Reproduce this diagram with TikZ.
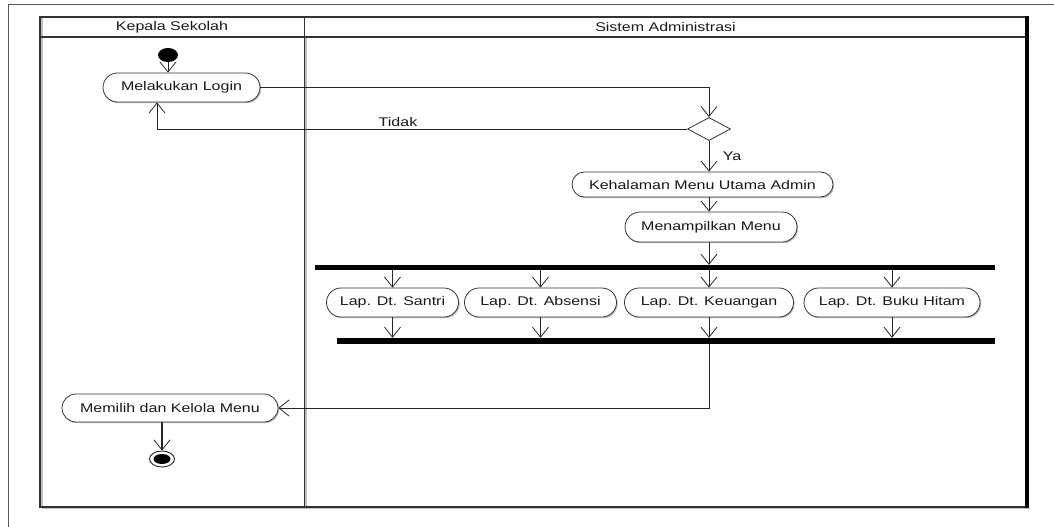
\documentclass[tikz,border=0pt]{standalone}
\usepackage{fontspec}
\newfontfamily\diagfont[FakeStretch=1.27]{Liberation Sans}
\usetikzlibrary{arrows.meta,shapes.misc,shapes.geometric,shadows}

\begin{document}
\begin{tikzpicture}[x=1pt,y=-1pt,
  every node/.style={font=\diagfont\fontsize{12.6}{15}\selectfont, text=black!90},
  act/.style={rounded rectangle, draw=black!80, line width=0.8pt, fill=white,
    inner sep=0pt,
    drop shadow={shadow xshift=1.2pt,shadow yshift=-1.2pt,fill=black!25,opacity=1}},
  flow/.style={draw=black!85, line width=0.8pt,
    -{Straight Barb[length=10pt,width=16pt,line width=0.8pt]}},
  bar/.style={rectangle, fill=black, inner sep=0pt},
  lane/.style={draw=black!80, line width=1.2pt},
  lbl/.style={inner sep=0pt}
]
\useasboundingbox (0,0) rectangle (1054,527);

% page frame
\draw[black!65, line width=1pt] (8,527) -- (8,5) -- (1054,5);

% swimlanes
\draw[black!25, line width=1.5pt] (42,508.5) -- (1030,508.5);
\draw[black!25, line width=1.5pt] (42,17) -- (42,507);
\draw[black!25, line width=1.5pt] (306,37) -- (306,507);
\draw[lane] (40,17) rectangle (1027,507);
\draw[lane] (40,37) -- (1027,37);
\draw[lane] (304.5,17) -- (304.5,507);
\draw[black, line width=3.5pt] (1027,16.4) -- (1027,507.6);
\node[lbl] (h1) at (172,27) {Kepala Sekolah};
\node[lbl] (h2) at (665.5,27) {Sistem Administrasi};

% activities
\node[ellipse, fill=black, inner sep=0pt, minimum width=20pt, minimum height=14pt] (start) at (168,55) {};
\node[act, minimum width=157pt, minimum height=29pt] (login) at (181.5,87.5) {Melakukan Login};
\node[diamond, draw=black!80, line width=0.8pt, fill=white, inner sep=0pt,
      minimum width=43pt, minimum height=23pt] (dec) at (709,129) {};
\node[act, minimum width=261pt, minimum height=25pt] (kehal) at (702.5,184.5) {Kehalaman Menu Utama Admin};
\node[act, minimum width=172pt, minimum height=30pt] (menu) at (711,227) {Menampilkan Menu};
\node[bar, minimum width=680pt, minimum height=5pt] (fork) at (655,267.5) {};
\node[act, minimum width=132pt, minimum height=29pt] (santri) at (392.5,302.5) {Lap. Dt. Santri};
\node[act, minimum width=152pt, minimum height=29pt] (absensi) at (540.5,302.5) {Lap. Dt. Absensi};
\node[act, minimum width=169pt, minimum height=29pt] (keu) at (709,302.5) {Lap. Dt. Keuangan};
\node[act, minimum width=176pt, minimum height=29pt] (buku) at (892,302.5) {Lap. Dt. Buku Hitam};
\node[bar, minimum width=658pt, minimum height=6pt] (join) at (666,341) {};
\node[act, minimum width=216pt, minimum height=28pt] (memilih) at (170,408) {Memilih dan Kelola Menu};
\node[ellipse, draw=black!85, line width=0.9pt, fill=white, inner sep=0pt,
      minimum width=25pt, minimum height=16pt] (endo) at (162,459) {};
\node[ellipse, fill=black, inner sep=0pt, minimum width=17pt, minimum height=10pt] (endi) at (endo.center) {};

% flows
\draw[flow] (start) -- (start |- login.north);
\draw[flow] (login.east) -| (dec.north);
\draw[flow] (dec.west) -| ([xshift=-24.5pt]login.south);
\node[lbl] (tidak) at (398,121.5) {Tidak};
\draw[flow] (dec.south) -- (dec.south |- kehal.north);
\node[lbl] (ya) at (732,156) {Ya};
\draw[flow] (dec |- kehal.south) -- (dec |- menu.north);
\draw[flow] (dec |- menu.south) -- (dec |- fork.north);
\foreach \n in {santri,absensi,keu,buku}{
  \draw[flow] (\n.north |- fork.south) -- (\n.north);
  \draw[flow] (\n.south) -- (\n.south |- join.north);
}
\draw[flow] (keu |- join.south) |- (memilih.east);
\draw[flow, line width=1.5pt] (endo |- memilih.south) -- (endo.north);
\end{tikzpicture}
\end{document}
